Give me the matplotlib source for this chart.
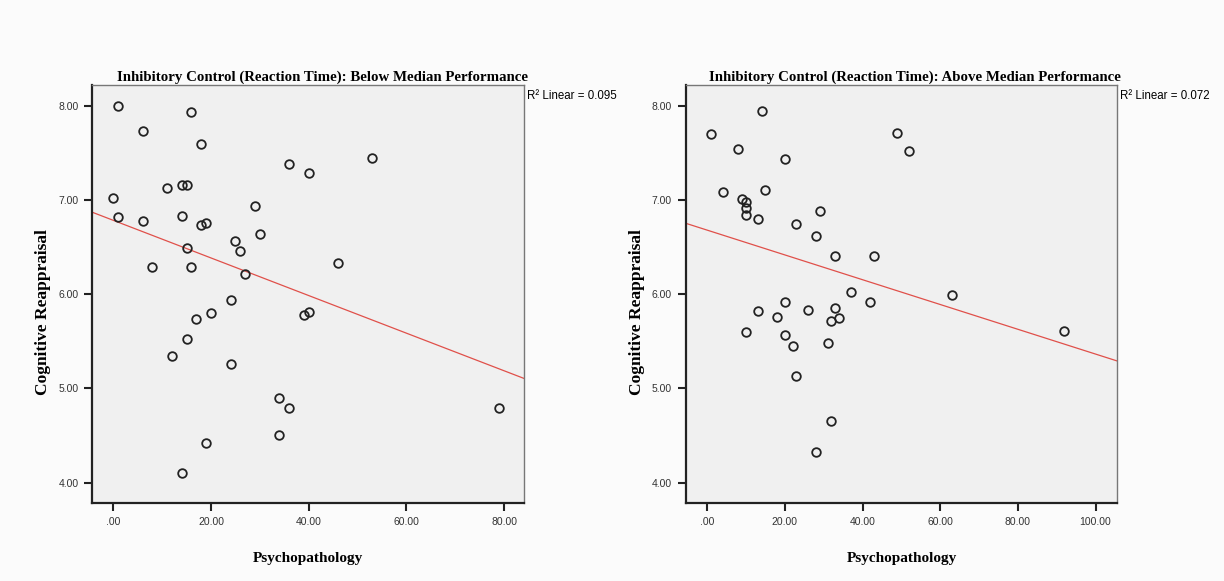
import numpy as np
import matplotlib
matplotlib.use("Agg")
import matplotlib.pyplot as plt
from matplotlib.ticker import FuncFormatter

# data
left_x = [1, 16, 6, 18, 36, 40, 11, 14, 15, 0,
          29, 1, 6, 14, 18, 19, 30, 25, 15, 26,
          8, 16, 27, 46, 24, 20, 17, 39, 40, 15,
          53, 12, 24, 34, 36, 34, 19, 14, 79]
left_y = [8.00, 7.93, 7.73, 7.59, 7.38, 7.29, 7.13, 7.16, 7.16, 7.02,
          6.94, 6.82, 6.78, 6.83, 6.73, 6.75, 6.64, 6.56, 6.49, 6.46,
          6.29, 6.29, 6.21, 6.33, 5.94, 5.80, 5.74, 5.78, 5.81, 5.52,
          7.44, 5.34, 5.26, 4.90, 4.79, 4.51, 4.42, 4.10, 4.79]

right_x = [14, 1, 49, 52, 8, 20, 4, 15, 9, 10,
           10, 10, 13, 29, 23, 28, 33, 43, 63, 37,
           42, 20, 13, 26, 33, 18, 34, 32, 10, 20,
           22, 31, 23, 32, 28, 92]
right_y = [7.94, 7.70, 7.71, 7.52, 7.54, 7.43, 7.08, 7.11, 7.01, 6.98,
           6.91, 6.84, 6.80, 6.88, 6.74, 6.62, 6.40, 6.40, 5.99, 6.02,
           5.92, 5.92, 5.82, 5.83, 5.85, 5.76, 5.75, 5.72, 5.60, 5.57,
           5.45, 5.48, 5.13, 4.65, 4.33, 5.61]

titles = ["Inhibitory Control (Reaction Time): Below Median Performance",
          "Inhibitory Control (Reaction Time): Above Median Performance"]
r2_labels = ["R\u00b2 Linear = 0.095", "R\u00b2 Linear = 0.072"]
left_xticks = [0, 20, 40, 60, 80]
right_xticks = [0, 20, 40, 60, 80, 100]
yticks = [4, 5, 6, 7, 8]

serif = "Liberation Serif"
sans = "Liberation Sans"


def fmt(v, pos):
    s = "%.2f" % v
    if s.startswith("0"):
        s = s[1:]
    return s


fig = plt.figure(figsize=(12.24, 5.81), dpi=100, facecolor="#fbfbfb")

ax1 = fig.add_axes([0.0754, 0.1337, 0.3529, 0.72])
ax2 = fig.add_axes([0.5603, 0.1337, 0.3525, 0.72])

panels = [(ax1, left_x, left_y, left_xticks, (-4.3, 84.1)),
          (ax2, right_x, right_y, right_xticks, (-5.5, 105.6))]

for i, (ax, xs, ys, xt, xl) in enumerate(panels):
    ax.set_facecolor("#f0f0f0")
    ax.set_xlim(*xl)
    ax.set_ylim(3.78, 8.22)

    ax.plot(xs, ys, linestyle="none", marker="o", markersize=6.2,
            markerfacecolor="none", markeredgecolor="#222222",
            markeredgewidth=1.3, zorder=3)

    # least squares fit line across the whole axis
    b, a = np.polyfit(xs, ys, 1)
    lx = np.array(xl)
    ax.plot(lx, a + b * lx, color="#e0504a", linewidth=0.9, zorder=2)

    ax.set_xticks(xt)
    ax.set_yticks(yticks)
    ax.xaxis.set_major_formatter(FuncFormatter(fmt))
    ax.yaxis.set_major_formatter(FuncFormatter(fmt))
    ax.tick_params(direction="out", length=6, width=1.5, color="#222222",
                   labelsize=7.5, labelcolor="#333333", pad=4)
    for lab in ax.get_xticklabels() + ax.get_yticklabels():
        lab.set_fontfamily(sans)

    for side in ["left", "bottom"]:
        ax.spines[side].set_linewidth(1.6)
        ax.spines[side].set_color("#222222")
    for side in ["top", "right"]:
        ax.spines[side].set_linewidth(1.0)
        ax.spines[side].set_color("#777777")

    ax.set_xlabel("Psychopathology", fontfamily=serif, fontweight="bold",
                  fontsize=11)
    ax.xaxis.label.set_va("center")
    ax.xaxis.set_label_coords(0.5, -0.131)
    ax.set_ylabel("Cognitive Reappraisal", fontfamily=serif,
                  fontweight="bold", fontsize=12.5)
    ax.yaxis.label.set_va("center")
    ax.yaxis.set_label_coords(-0.113, 0.457)

    ax.text(0.532, 1.011, titles[i], transform=ax.transAxes, ha="center",
            va="baseline", fontfamily=serif, fontweight="bold",
            fontsize=10.7)
    ax.text(1.006, 0.974, r2_labels[i], transform=ax.transAxes, ha="left",
            va="center", fontfamily=sans, fontsize=8.3)

fig.savefig("out.png", dpi=100, facecolor=fig.get_facecolor())
